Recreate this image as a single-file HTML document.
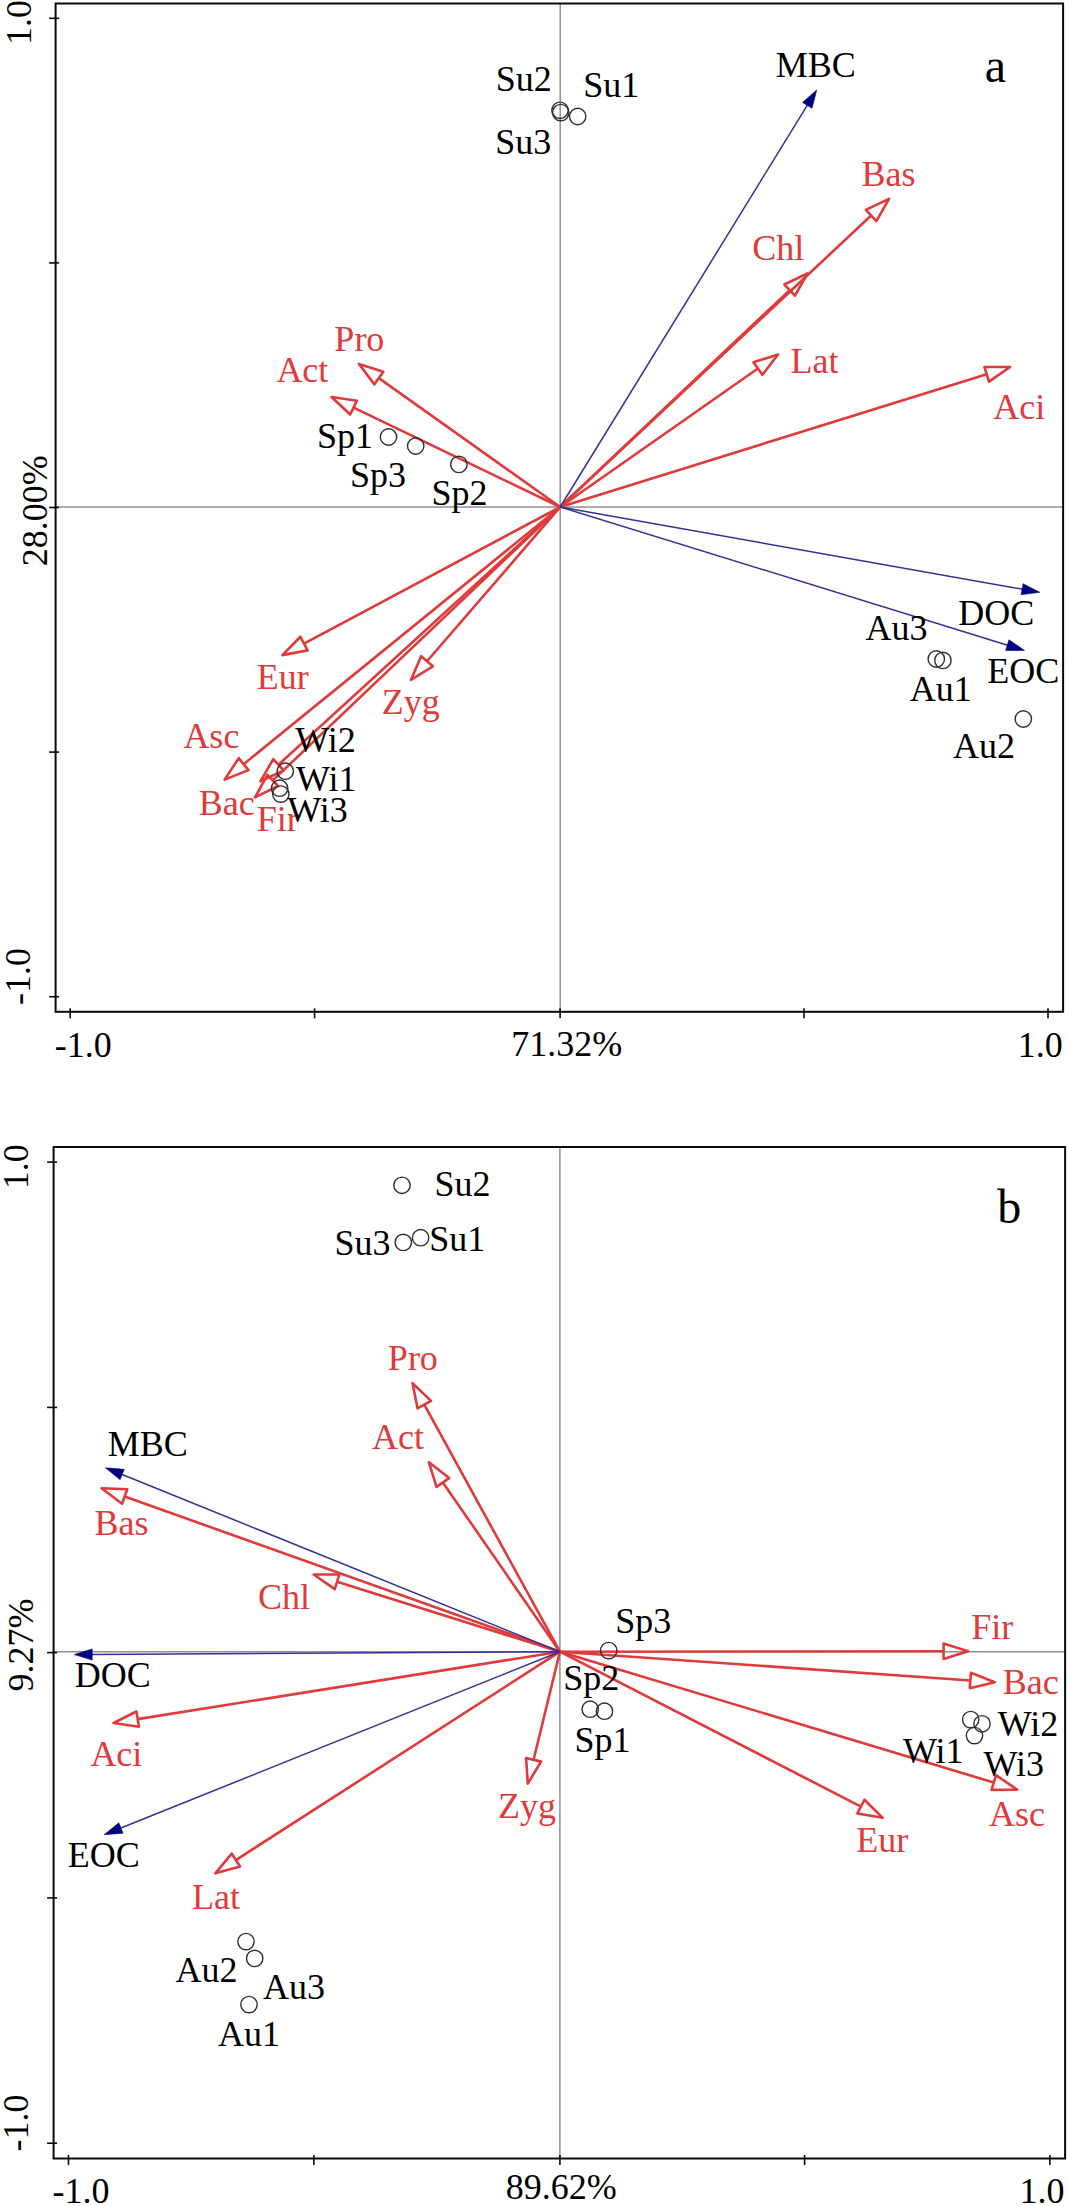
<!DOCTYPE html>
<html><head><meta charset="utf-8"><style>
html,body{margin:0;padding:0;background:#fff;}
svg{display:block;}
text{font-family:"Liberation Serif",serif;}
</style></head><body>
<svg width="1068" height="2206" viewBox="0 0 1068 2206">
<rect width="1068" height="2206" fill="#fff"/>
<line x1="560.2" y1="3.5" x2="560.2" y2="1011.8" stroke="#909090" stroke-width="1.5"/>
<line x1="55.6" y1="507.0" x2="1063.1" y2="507.0" stroke="#909090" stroke-width="1.5"/>
<rect x="55.6" y="3.5" width="1007.4999999999999" height="1008.3" fill="none" stroke="#0a0a0a" stroke-width="2"/>
<line x1="49.1" y1="18.3" x2="59.1" y2="18.3" stroke="#0a0a0a" stroke-width="1.6"/>
<line x1="49.1" y1="262.9" x2="59.1" y2="262.9" stroke="#0a0a0a" stroke-width="1.6"/>
<line x1="49.1" y1="507.5" x2="59.1" y2="507.5" stroke="#0a0a0a" stroke-width="1.6"/>
<line x1="49.1" y1="752.1" x2="59.1" y2="752.1" stroke="#0a0a0a" stroke-width="1.6"/>
<line x1="49.1" y1="996.7" x2="59.1" y2="996.7" stroke="#0a0a0a" stroke-width="1.6"/>
<line x1="70.2" y1="1008.3" x2="70.2" y2="1018.3" stroke="#0a0a0a" stroke-width="1.6"/>
<line x1="314.6" y1="1008.3" x2="314.6" y2="1018.3" stroke="#0a0a0a" stroke-width="1.6"/>
<line x1="560.1" y1="1008.3" x2="560.1" y2="1018.3" stroke="#0a0a0a" stroke-width="1.6"/>
<line x1="804.0" y1="1008.3" x2="804.0" y2="1018.3" stroke="#0a0a0a" stroke-width="1.6"/>
<line x1="1048.0" y1="1008.3" x2="1048.0" y2="1018.3" stroke="#0a0a0a" stroke-width="1.6"/>
<line x1="560.20" y1="507.00" x2="871.12" y2="215.56" stroke="#e03a3a" stroke-width="2.6"/>
<path d="M889.00,198.80 L876.39,221.17 L865.86,209.94 Z" fill="none" stroke="#e03a3a" stroke-width="2.6" stroke-linejoin="round"/>
<line x1="560.20" y1="507.00" x2="789.69" y2="290.13" stroke="#e03a3a" stroke-width="2.6"/>
<path d="M807.50,273.30 L794.98,295.72 L784.40,284.53 Z" fill="none" stroke="#e03a3a" stroke-width="2.6" stroke-linejoin="round"/>
<line x1="560.20" y1="507.00" x2="757.93" y2="368.55" stroke="#e03a3a" stroke-width="2.6"/>
<path d="M778.00,354.50 L762.35,374.86 L753.51,362.24 Z" fill="none" stroke="#e03a3a" stroke-width="2.6" stroke-linejoin="round"/>
<line x1="560.20" y1="507.00" x2="986.71" y2="374.28" stroke="#e03a3a" stroke-width="2.6"/>
<path d="M1010.10,367.00 L988.99,381.63 L984.42,366.93 Z" fill="none" stroke="#e03a3a" stroke-width="2.6" stroke-linejoin="round"/>
<line x1="560.20" y1="507.00" x2="378.87" y2="378.10" stroke="#e03a3a" stroke-width="2.6"/>
<path d="M358.90,363.90 L383.33,371.82 L374.41,384.37 Z" fill="none" stroke="#e03a3a" stroke-width="2.6" stroke-linejoin="round"/>
<line x1="560.20" y1="507.00" x2="353.58" y2="407.62" stroke="#e03a3a" stroke-width="2.6"/>
<path d="M331.50,397.00 L356.92,400.68 L350.24,414.56 Z" fill="none" stroke="#e03a3a" stroke-width="2.6" stroke-linejoin="round"/>
<line x1="560.20" y1="507.00" x2="304.02" y2="643.57" stroke="#e03a3a" stroke-width="2.6"/>
<path d="M282.40,655.10 L300.40,636.78 L307.64,650.37 Z" fill="none" stroke="#e03a3a" stroke-width="2.6" stroke-linejoin="round"/>
<line x1="560.20" y1="507.00" x2="427.01" y2="661.26" stroke="#e03a3a" stroke-width="2.6"/>
<path d="M411.00,679.80 L421.18,656.22 L432.84,666.29 Z" fill="none" stroke="#e03a3a" stroke-width="2.6" stroke-linejoin="round"/>
<line x1="560.20" y1="507.00" x2="243.62" y2="764.15" stroke="#e03a3a" stroke-width="2.6"/>
<path d="M224.60,779.60 L238.76,758.18 L248.47,770.13 Z" fill="none" stroke="#e03a3a" stroke-width="2.6" stroke-linejoin="round"/>
<line x1="560.20" y1="507.00" x2="278.48" y2="764.76" stroke="#e03a3a" stroke-width="2.6"/>
<path d="M260.40,781.30 L273.28,759.08 L283.67,770.44 Z" fill="none" stroke="#e03a3a" stroke-width="2.6" stroke-linejoin="round"/>
<line x1="560.20" y1="507.00" x2="272.75" y2="780.41" stroke="#e03a3a" stroke-width="2.6"/>
<path d="M255.00,797.30 L267.45,774.84 L278.06,785.99 Z" fill="none" stroke="#e03a3a" stroke-width="2.6" stroke-linejoin="round"/>
<line x1="560.20" y1="507.00" x2="808.32" y2="103.63" stroke="#34309a" stroke-width="1.5"/>
<path d="M816.70,90.00 L812.04,108.27 L802.50,102.40 Z" fill="#000080" stroke="#000080" stroke-width="0.6"/>
<line x1="560.20" y1="507.00" x2="1024.05" y2="589.50" stroke="#34309a" stroke-width="1.5"/>
<path d="M1039.80,592.30 L1021.10,594.66 L1023.06,583.63 Z" fill="#000080" stroke="#000080" stroke-width="0.6"/>
<line x1="560.20" y1="507.00" x2="1009.21" y2="645.68" stroke="#34309a" stroke-width="1.5"/>
<path d="M1024.50,650.40 L1005.65,650.44 L1008.95,639.74 Z" fill="#000080" stroke="#000080" stroke-width="0.6"/>
<circle cx="577.70" cy="116.50" r="8.2" fill="none" stroke="#303034" stroke-width="1.4"/>
<circle cx="560.00" cy="110.30" r="8.2" fill="none" stroke="#303034" stroke-width="1.4"/>
<circle cx="560.80" cy="112.60" r="8.2" fill="none" stroke="#303034" stroke-width="1.4"/>
<circle cx="388.50" cy="437.00" r="8.2" fill="none" stroke="#303034" stroke-width="1.4"/>
<circle cx="415.70" cy="446.00" r="8.2" fill="none" stroke="#303034" stroke-width="1.4"/>
<circle cx="458.90" cy="464.40" r="8.2" fill="none" stroke="#303034" stroke-width="1.4"/>
<circle cx="936.30" cy="659.00" r="8.2" fill="none" stroke="#303034" stroke-width="1.4"/>
<circle cx="942.90" cy="660.40" r="8.2" fill="none" stroke="#303034" stroke-width="1.4"/>
<circle cx="1023.30" cy="719.00" r="8.2" fill="none" stroke="#303034" stroke-width="1.4"/>
<circle cx="285.30" cy="771.20" r="8.2" fill="none" stroke="#303034" stroke-width="1.4"/>
<circle cx="279.60" cy="788.20" r="8.2" fill="none" stroke="#303034" stroke-width="1.4"/>
<circle cx="280.80" cy="794.10" r="8.2" fill="none" stroke="#303034" stroke-width="1.4"/>
<text x="775.81" y="77.34" fill="#000" font-size="36">MBC</text>
<text x="495.78" y="91.04" fill="#000" font-size="36">Su2</text>
<text x="583.27" y="97.24" fill="#000" font-size="36">Su1</text>
<text x="495.34" y="153.94" fill="#000" font-size="36">Su3</text>
<text x="861.53" y="185.67" fill="#e03a3a" font-size="36">Bas</text>
<text x="752.32" y="259.58" fill="#e03a3a" font-size="36">Chl</text>
<text x="790.45" y="372.87" fill="#e03a3a" font-size="36">Lat</text>
<text x="993.28" y="419.24" fill="#e03a3a" font-size="36">Aci</text>
<text x="334.36" y="351.07" fill="#e03a3a" font-size="36">Pro</text>
<text x="276.39" y="381.87" fill="#e03a3a" font-size="36">Act</text>
<text x="317.02" y="448.04" fill="#000" font-size="36">Sp1</text>
<text x="350.04" y="487.14" fill="#000" font-size="36">Sp3</text>
<text x="431.58" y="505.04" fill="#000" font-size="36">Sp2</text>
<text x="958.22" y="624.64" fill="#000" font-size="36">DOC</text>
<text x="987.27" y="683.44" fill="#000" font-size="36">EOC</text>
<text x="865.48" y="639.94" fill="#000" font-size="36">Au3</text>
<text x="909.71" y="701.17" fill="#000" font-size="36">Au1</text>
<text x="953.02" y="758.34" fill="#000" font-size="36">Au2</text>
<text x="256.70" y="689.07" fill="#e03a3a" font-size="36">Eur</text>
<text x="381.79" y="714.37" fill="#e03a3a" font-size="36">Zyg</text>
<text x="183.38" y="748.27" fill="#e03a3a" font-size="36">Asc</text>
<text x="198.65" y="814.87" fill="#e03a3a" font-size="36">Bac</text>
<text x="256.78" y="830.64" fill="#e03a3a" font-size="36">Fir</text>
<text x="295.19" y="751.94" fill="#000" font-size="36">Wi2</text>
<text x="295.97" y="791.34" fill="#000" font-size="36">Wi1</text>
<text x="287.20" y="822.24" fill="#000" font-size="36">Wi3</text>
<text x="984.68" y="81.52" fill="#000" font-size="48">a</text>
<text x="54.77" y="1056.64" fill="#000" font-size="36">-1.0</text>
<text x="1017.75" y="1056.74" fill="#000" font-size="36">1.0</text>
<text x="511.18" y="1055.94" fill="#000" font-size="36">71.32%</text>
<text transform="translate(30.94,45.05) rotate(-90)" fill="#000" font-size="36">1.0</text>
<text transform="translate(30.44,1005.03) rotate(-90)" fill="#000" font-size="36">-1.0</text>
<text transform="translate(46.74,566.17) rotate(-90)" fill="#000" font-size="36">28.00%</text>
<line x1="559.9" y1="1147.0" x2="559.9" y2="2158.5" stroke="#909090" stroke-width="1.5"/>
<line x1="53.6" y1="1651.7" x2="1065.1" y2="1651.7" stroke="#909090" stroke-width="1.5"/>
<rect x="53.6" y="1147.0" width="1011.4999999999999" height="1011.5" fill="none" stroke="#0a0a0a" stroke-width="2"/>
<line x1="47.1" y1="1162.1" x2="57.1" y2="1162.1" stroke="#0a0a0a" stroke-width="1.6"/>
<line x1="47.1" y1="1407.4" x2="57.1" y2="1407.4" stroke="#0a0a0a" stroke-width="1.6"/>
<line x1="47.1" y1="1652.6" x2="57.1" y2="1652.6" stroke="#0a0a0a" stroke-width="1.6"/>
<line x1="47.1" y1="1897.9" x2="57.1" y2="1897.9" stroke="#0a0a0a" stroke-width="1.6"/>
<line x1="47.1" y1="2143.2" x2="57.1" y2="2143.2" stroke="#0a0a0a" stroke-width="1.6"/>
<line x1="68.5" y1="2155.0" x2="68.5" y2="2165.0" stroke="#0a0a0a" stroke-width="1.6"/>
<line x1="313.9" y1="2155.0" x2="313.9" y2="2165.0" stroke="#0a0a0a" stroke-width="1.6"/>
<line x1="559.9" y1="2155.0" x2="559.9" y2="2165.0" stroke="#0a0a0a" stroke-width="1.6"/>
<line x1="804.6" y1="2155.0" x2="804.6" y2="2165.0" stroke="#0a0a0a" stroke-width="1.6"/>
<line x1="1049.9" y1="2155.0" x2="1049.9" y2="2165.0" stroke="#0a0a0a" stroke-width="1.6"/>
<line x1="559.90" y1="1651.70" x2="424.29" y2="1404.58" stroke="#e03a3a" stroke-width="2.6"/>
<path d="M412.50,1383.10 L431.04,1400.87 L417.54,1408.28 Z" fill="none" stroke="#e03a3a" stroke-width="2.6" stroke-linejoin="round"/>
<line x1="559.90" y1="1651.70" x2="442.84" y2="1482.45" stroke="#e03a3a" stroke-width="2.6"/>
<path d="M428.90,1462.30 L449.17,1478.07 L436.50,1486.83 Z" fill="none" stroke="#e03a3a" stroke-width="2.6" stroke-linejoin="round"/>
<line x1="559.90" y1="1651.70" x2="124.68" y2="1496.53" stroke="#e03a3a" stroke-width="2.6"/>
<path d="M101.60,1488.30 L127.26,1489.27 L122.09,1503.78 Z" fill="none" stroke="#e03a3a" stroke-width="2.6" stroke-linejoin="round"/>
<line x1="559.90" y1="1651.70" x2="337.08" y2="1581.83" stroke="#e03a3a" stroke-width="2.6"/>
<path d="M313.70,1574.50 L339.38,1574.48 L334.77,1589.18 Z" fill="none" stroke="#e03a3a" stroke-width="2.6" stroke-linejoin="round"/>
<line x1="559.90" y1="1651.70" x2="137.69" y2="1719.14" stroke="#e03a3a" stroke-width="2.6"/>
<path d="M113.50,1723.00 L136.48,1711.53 L138.91,1726.74 Z" fill="none" stroke="#e03a3a" stroke-width="2.6" stroke-linejoin="round"/>
<line x1="559.90" y1="1651.70" x2="235.91" y2="1860.05" stroke="#e03a3a" stroke-width="2.6"/>
<path d="M215.30,1873.30 L231.74,1853.57 L240.07,1866.52 Z" fill="none" stroke="#e03a3a" stroke-width="2.6" stroke-linejoin="round"/>
<line x1="559.90" y1="1651.70" x2="533.59" y2="1759.79" stroke="#e03a3a" stroke-width="2.6"/>
<path d="M527.80,1783.60 L526.11,1757.97 L541.08,1761.62 Z" fill="none" stroke="#e03a3a" stroke-width="2.6" stroke-linejoin="round"/>
<line x1="559.90" y1="1651.70" x2="943.60" y2="1651.23" stroke="#e03a3a" stroke-width="2.6"/>
<path d="M968.10,1651.20 L943.61,1658.93 L943.59,1643.53 Z" fill="none" stroke="#e03a3a" stroke-width="2.6" stroke-linejoin="round"/>
<line x1="559.90" y1="1651.70" x2="970.36" y2="1680.49" stroke="#e03a3a" stroke-width="2.6"/>
<path d="M994.80,1682.20 L969.82,1688.17 L970.90,1672.80 Z" fill="none" stroke="#e03a3a" stroke-width="2.6" stroke-linejoin="round"/>
<line x1="559.90" y1="1651.70" x2="993.74" y2="1782.53" stroke="#e03a3a" stroke-width="2.6"/>
<path d="M1017.20,1789.60 L991.52,1789.90 L995.97,1775.15 Z" fill="none" stroke="#e03a3a" stroke-width="2.6" stroke-linejoin="round"/>
<line x1="559.90" y1="1651.70" x2="860.91" y2="1806.59" stroke="#e03a3a" stroke-width="2.6"/>
<path d="M882.70,1817.80 L857.39,1813.44 L864.44,1799.74 Z" fill="none" stroke="#e03a3a" stroke-width="2.6" stroke-linejoin="round"/>
<line x1="559.90" y1="1651.70" x2="120.33" y2="1473.80" stroke="#34309a" stroke-width="1.5"/>
<path d="M105.50,1467.80 L124.29,1469.36 L120.08,1479.74 Z" fill="#000080" stroke="#000080" stroke-width="0.6"/>
<line x1="559.90" y1="1651.70" x2="90.20" y2="1654.50" stroke="#34309a" stroke-width="1.5"/>
<path d="M74.20,1654.60 L92.17,1648.89 L92.23,1660.09 Z" fill="#000080" stroke="#000080" stroke-width="0.6"/>
<line x1="559.90" y1="1651.70" x2="119.05" y2="1828.74" stroke="#34309a" stroke-width="1.5"/>
<path d="M104.20,1834.70 L118.82,1822.80 L122.99,1833.19 Z" fill="#000080" stroke="#000080" stroke-width="0.6"/>
<circle cx="402.00" cy="1185.30" r="8.2" fill="none" stroke="#303034" stroke-width="1.4"/>
<circle cx="403.30" cy="1242.40" r="8.2" fill="none" stroke="#303034" stroke-width="1.4"/>
<circle cx="420.60" cy="1237.70" r="8.2" fill="none" stroke="#303034" stroke-width="1.4"/>
<circle cx="608.70" cy="1650.60" r="8.2" fill="none" stroke="#303034" stroke-width="1.4"/>
<circle cx="590.20" cy="1709.20" r="8.2" fill="none" stroke="#303034" stroke-width="1.4"/>
<circle cx="604.50" cy="1711.20" r="8.2" fill="none" stroke="#303034" stroke-width="1.4"/>
<circle cx="970.70" cy="1719.60" r="8.2" fill="none" stroke="#303034" stroke-width="1.4"/>
<circle cx="982.00" cy="1723.80" r="8.2" fill="none" stroke="#303034" stroke-width="1.4"/>
<circle cx="974.50" cy="1735.60" r="8.2" fill="none" stroke="#303034" stroke-width="1.4"/>
<circle cx="246.00" cy="1941.60" r="8.2" fill="none" stroke="#303034" stroke-width="1.4"/>
<circle cx="254.70" cy="1958.40" r="8.2" fill="none" stroke="#303034" stroke-width="1.4"/>
<circle cx="249.00" cy="2004.60" r="8.2" fill="none" stroke="#303034" stroke-width="1.4"/>
<text x="434.53" y="1196.04" fill="#000" font-size="36">Su2</text>
<text x="334.59" y="1254.64" fill="#000" font-size="36">Su3</text>
<text x="429.22" y="1251.24" fill="#000" font-size="36">Su1</text>
<text x="387.86" y="1369.77" fill="#e03a3a" font-size="36">Pro</text>
<text x="372.04" y="1449.27" fill="#e03a3a" font-size="36">Act</text>
<text x="107.81" y="1455.64" fill="#000" font-size="36">MBC</text>
<text x="94.48" y="1534.87" fill="#e03a3a" font-size="36">Bas</text>
<text x="257.92" y="1609.28" fill="#e03a3a" font-size="36">Chl</text>
<text x="74.82" y="1687.14" fill="#000" font-size="36">DOC</text>
<text x="90.38" y="1765.54" fill="#e03a3a" font-size="36">Aci</text>
<text x="67.72" y="1867.34" fill="#000" font-size="36">EOC</text>
<text x="192.10" y="1909.27" fill="#e03a3a" font-size="36">Lat</text>
<text x="497.99" y="1817.77" fill="#e03a3a" font-size="36">Zyg</text>
<text x="615.14" y="1633.14" fill="#000" font-size="36">Sp3</text>
<text x="563.18" y="1689.54" fill="#000" font-size="36">Sp2</text>
<text x="574.47" y="1751.94" fill="#000" font-size="36">Sp1</text>
<text x="971.28" y="1638.74" fill="#e03a3a" font-size="36">Fir</text>
<text x="1002.80" y="1694.07" fill="#e03a3a" font-size="36">Bac</text>
<text x="997.84" y="1735.94" fill="#000" font-size="36">Wi2</text>
<text x="902.92" y="1762.64" fill="#000" font-size="36">Wi1</text>
<text x="983.50" y="1775.84" fill="#000" font-size="36">Wi3</text>
<text x="989.03" y="1826.17" fill="#e03a3a" font-size="36">Asc</text>
<text x="856.15" y="1851.97" fill="#e03a3a" font-size="36">Eur</text>
<text x="175.57" y="1981.74" fill="#000" font-size="36">Au2</text>
<text x="263.08" y="1999.44" fill="#000" font-size="36">Au3</text>
<text x="217.96" y="2045.77" fill="#000" font-size="36">Au1</text>
<text x="997.31" y="1223.00" fill="#000" font-size="48">b</text>
<text x="52.42" y="2202.84" fill="#000" font-size="36">-1.0</text>
<text x="1019.45" y="2202.84" fill="#000" font-size="36">1.0</text>
<text x="505.79" y="2198.54" fill="#000" font-size="36">89.62%</text>
<text transform="translate(28.44,1189.20) rotate(-90)" fill="#000" font-size="36">1.0</text>
<text transform="translate(28.44,2151.53) rotate(-90)" fill="#000" font-size="36">-1.0</text>
<text transform="translate(32.54,1691.61) rotate(-90)" fill="#000" font-size="36">9.27%</text>
</svg>
</body></html>
